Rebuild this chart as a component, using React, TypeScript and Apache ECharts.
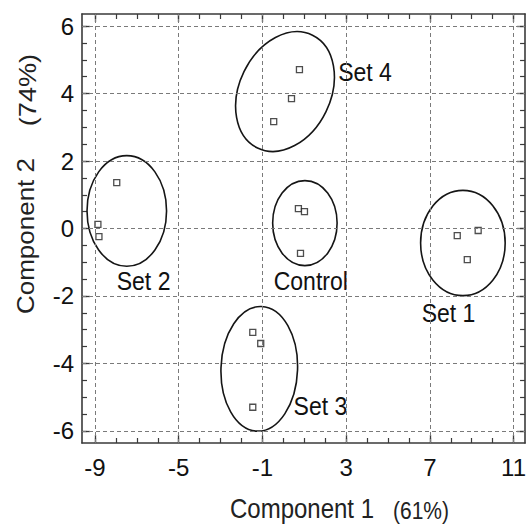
import React, { useEffect, useRef } from "react";
import * as echarts from "echarts";

// Axis ranges and ticks
const X_MIN = -9.62;
const X_MAX = 11.55;
const Y_MIN = -6.36;
const Y_MAX = 6.36;
const X_TICKS = [-9, -5, -1, 3, 7, 11];
const X_MINOR = [-9, -8, -7, -6, -5, -4, -3, -2, -1, 0, 1, 2, 3, 4, 5, 6, 7, 8, 9, 10, 11];
const Y_TICKS = [-6, -4, -2, 0, 2, 4, 6];
const Y_MINOR = [-6, -5.5, -5, -4.5, -4, -3.5, -3, -2.5, -2, -1.5, -1, -0.5, 0, 0.5, 1, 1.5, 2, 2.5, 3, 3.5, 4, 4.5, 5, 5.5, 6];

// Points per group [x, y]
const set1Points = [[8.31, -0.21], [9.31, -0.06], [8.79, -0.92]];
const set2Points = [[-7.96, 1.36], [-8.86, 0.12], [-8.81, -0.24]];
const set3Points = [[-1.46, -3.08], [-1.08, -3.41], [-1.46, -5.3]];
const set4Points = [[0.77, 4.71], [0.39, 3.85], [-0.46, 3.17]];
const controlPoints = [[0.72, 0.59], [1.01, 0.5], [0.82, -0.74]];

// Ellipses: centre x, centre y, radius x, radius y (data units), tilt (deg, clockwise)
const ellipseNames = ["Set1", "Set2", "Set3", "Set4", "Control"];
const ellipseCx = [8.58, -7.48, -1.15, 0.08, 1.03];
const ellipseCy = [-0.43, 0.52, -4.16, 4.06, 0.16];
const ellipseRx = [2.02, 1.9, 1.83, 2.18, 1.54];
const ellipseRy = [1.56, 1.64, 1.85, 1.86, 1.26];
const ellipseTilt = [0, 0, 2, 26, 0];

// Group labels: text, anchor x, anchor y (left-middle of the text)
const labelTexts = ["Set 1", "Set 2", "Set 3", "Set 4", "Control"];
const labelX = [6.61, -7.96, 0.49, 2.62, -0.46];
const labelY = [-2.52, -1.57, -5.27, 4.65, -1.57];

const FONT = "'Liberation Sans', Arial, Helvetica, sans-serif";
const FRAME = "#3a3a3a";
const STRETCH = 1.13;

export default function App() {
  const ref = useRef<HTMLDivElement>(null);
  useEffect(() => {
    if (!ref.current) return;
    const chart = echarts.init(ref.current, null, { renderer: "svg" });

    const baseX = {
      type: "value",
      min: X_MIN,
      max: X_MAX,
      gridIndex: 0,
      splitLine: { show: false },
    };
    const baseY = {
      type: "value",
      min: Y_MIN,
      max: Y_MAX,
      gridIndex: 0,
      splitLine: { show: false },
    };

    const allPoints = [
      ...set1Points,
      ...set2Points,
      ...set3Points,
      ...set4Points,
      ...controlPoints,
    ];

    const ellipseData = ellipseNames.map((_, i) => [
      ellipseCx[i],
      ellipseCy[i],
      ellipseRx[i],
      ellipseRy[i],
      ellipseTilt[i],
    ]);

    const labelData = labelTexts.map((t, i) => ({
      value: [labelX[i], labelY[i]],
      name: t,
    }));

    chart.setOption({
      animation: false,
      backgroundColor: "#ffffff",
      grid: { left: 82, top: 14, right: 1, bottom: 81, containLabel: false },
      xAxis: [
        {
          ...baseX,
          position: "bottom",
          axisLine: { show: true, onZero: false, lineStyle: { color: FRAME, width: 1.6 } },
          axisTick: { show: true, inside: true, length: 8, customValues: X_TICKS, lineStyle: { color: FRAME, width: 1.3 } },
          axisLabel: { show: true, customValues: X_TICKS, fontSize: 24, color: "#111", fontFamily: FONT, margin: 12 },
        },
        {
          ...baseX,
          position: "bottom",
          axisLine: { show: false, onZero: false },
          axisTick: { show: true, inside: true, length: 5, customValues: X_MINOR, lineStyle: { color: FRAME, width: 1.2 } },
          axisLabel: { show: false },
        },
        {
          ...baseX,
          position: "top",
          axisLine: { show: true, onZero: false, lineStyle: { color: FRAME, width: 1.6 } },
          axisTick: { show: true, inside: true, length: 8, customValues: X_TICKS, lineStyle: { color: FRAME, width: 1.3 } },
          axisLabel: { show: false },
        },
        {
          ...baseX,
          position: "top",
          axisLine: { show: false, onZero: false },
          axisTick: { show: true, inside: true, length: 5, customValues: X_MINOR, lineStyle: { color: FRAME, width: 1.2 } },
          axisLabel: { show: false },
        },
      ],
      yAxis: [
        {
          ...baseY,
          position: "left",
          axisLine: { show: true, onZero: false, lineStyle: { color: FRAME, width: 1.6 } },
          axisTick: { show: true, inside: true, length: 8, customValues: Y_TICKS, lineStyle: { color: FRAME, width: 1.3 } },
          axisLabel: { show: true, customValues: Y_TICKS, fontSize: 24, color: "#111", fontFamily: FONT, margin: 8 },
        },
        {
          ...baseY,
          position: "left",
          axisLine: { show: false, onZero: false },
          axisTick: { show: true, inside: true, length: 5, customValues: Y_MINOR, lineStyle: { color: FRAME, width: 1.2 } },
          axisLabel: { show: false },
        },
        {
          ...baseY,
          position: "right",
          axisLine: { show: true, onZero: false, lineStyle: { color: FRAME, width: 1.6 } },
          axisTick: { show: true, inside: true, length: 8, customValues: Y_TICKS, lineStyle: { color: FRAME, width: 1.3 } },
          axisLabel: { show: false },
        },
        {
          ...baseY,
          position: "right",
          axisLine: { show: false, onZero: false },
          axisTick: { show: true, inside: true, length: 5, customValues: Y_MINOR, lineStyle: { color: FRAME, width: 1.2 } },
          axisLabel: { show: false },
        },
      ],
      graphic: [
        {
          type: "text",
          x: 230,
          y: 508,
          scaleY: STRETCH,
          style: { text: "Component 1", fontSize: 24, fontFamily: FONT, fill: "#222", align: "left", verticalAlign: "middle" },
        },
        {
          type: "text",
          x: 393,
          y: 511,
          scaleY: STRETCH,
          style: { text: "(61%)", fontSize: 21, fontFamily: FONT, fill: "#222", align: "left", verticalAlign: "middle" },
        },
        {
          type: "text",
          x: 26,
          y: 236,
          rotation: Math.PI / 2,
          scaleX: STRETCH,
          style: {
            text: "Component 2",
            fontSize: 23,
            fontFamily: FONT,
            fill: "#222",
            align: "center",
            verticalAlign: "middle",
          },
        },
        {
          type: "text",
          x: 28,
          y: 90,
          rotation: Math.PI / 2,
          scaleX: STRETCH,
          style: {
            text: "(74%)",
            fontSize: 24,
            fontFamily: FONT,
            fill: "#222",
            align: "center",
            verticalAlign: "middle",
          },
        },
      ],
      series: [
        {
          type: "scatter",
          name: "grid",
          xAxisIndex: 0,
          yAxisIndex: 0,
          data: [],
          silent: true,
          markLine: {
            silent: true,
            symbol: "none",
            label: { show: false },
            lineStyle: { color: "#7a7a7a", width: 1, type: [4, 3] },
            data: [
              ...X_TICKS.map((v) => ({ xAxis: v })),
              ...Y_TICKS.map((v) => ({ yAxis: v })),
            ],
          },
        },
        {
          type: "custom",
          name: "ellipses",
          xAxisIndex: 0,
          yAxisIndex: 0,
          data: ellipseData,
          silent: true,
          clip: false,
          renderItem: (params: any, api: any) => {
            const c = api.coord([api.value(0), api.value(1)]);
            const s = api.size([api.value(2), api.value(3)]);
            return {
              type: "ellipse",
              x: c[0],
              y: c[1],
              rotation: (-api.value(4) * Math.PI) / 180,
              shape: { cx: 0, cy: 0, rx: s[0], ry: s[1] },
              style: { fill: "none", stroke: "#151515", lineWidth: 1.6 },
            };
          },
        },
        {
          type: "scatter",
          name: "points",
          xAxisIndex: 0,
          yAxisIndex: 0,
          symbol: "rect",
          symbolSize: 6,
          itemStyle: { color: "#ffffff", borderColor: "#222", borderWidth: 1.3 },
          data: allPoints,
        },
        {
          type: "custom",
          name: "labels",
          xAxisIndex: 0,
          yAxisIndex: 0,
          silent: true,
          clip: false,
          data: labelData,
          renderItem: (params: any, api: any) => {
            const c = api.coord([api.value(0), api.value(1)]);
            return {
              type: "text",
              x: c[0],
              y: c[1],
              scaleY: STRETCH,
              style: {
                text: labelTexts[params.dataIndex],
                fontSize: 23,
                fontFamily: FONT,
                fill: "#111",
                align: "left",
                verticalAlign: "middle",
              },
            };
          },
        },
      ],
    });
    return () => chart.dispose();
  }, []);
  return <div ref={ref} style={{ width: 529, height: 524, position: "absolute", left: 0, top: 0 }} />;
}
